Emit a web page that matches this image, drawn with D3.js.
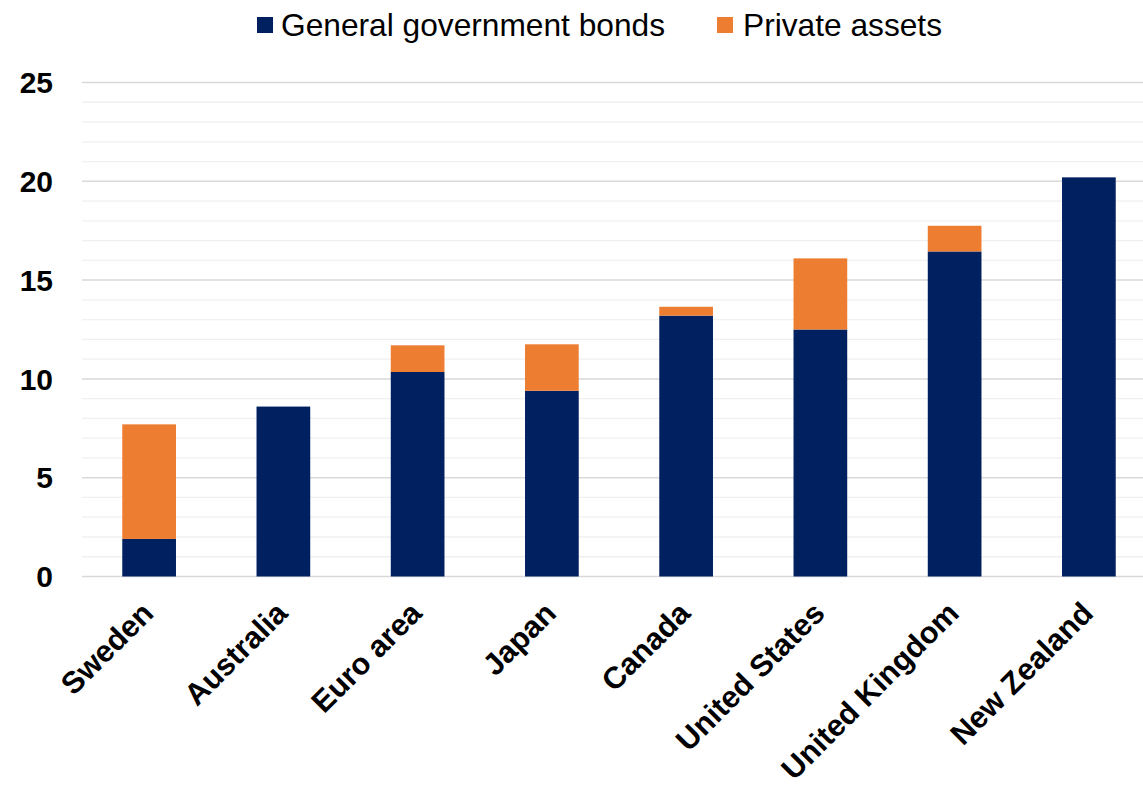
<!DOCTYPE html>
<html>
<head>
<meta charset="utf-8">
<script src="https://cdn.jsdelivr.net/npm/d3@7"></script>
<style>
  html, body { margin: 0; padding: 0; background: #fff; }
  svg { display: block; font-family: "Liberation Sans", Arial, sans-serif; }
</style>
</head>
<body>
<svg id="chart" width="1143" height="789"></svg>
<script>
const categories = ["Sweden", "Australia", "Euro area", "Japan", "Canada", "United States", "United Kingdom", "New Zealand"];
const govBonds = [1.9, 8.6, 10.35, 9.4, 13.2, 12.5, 16.45, 20.2];
const privateAssets = [5.8, 0, 1.35, 2.35, 0.45, 3.6, 1.3, 0];
const seriesNames = ["General government bonds", "Private assets"];
const seriesColors = ["#002060", "#ED7D31"];
const yTicks = [0, 5, 10, 15, 20, 25];
const yMinorTicks = d3.range(0, 26, 1);

const svg = d3.select("#chart");
const W = 1143, H = 789;

const x = d3.scaleBand().domain(categories).range([82, 1156]).paddingInner(0.6).paddingOuter(0.3);
const y = d3.scaleLinear().domain([0, 25]).range([576.5, 82.5]);

// minor gridlines
svg.append("g").selectAll("line").data(yMinorTicks.filter(d => d % 5 !== 0)).join("line")
  .attr("x1", 82).attr("x2", W)
  .attr("y1", d => y(d)).attr("y2", d => y(d))
  .attr("stroke", "#f0f0f0").attr("stroke-width", 1.3);

// major gridlines
svg.append("g").selectAll("line").data(yTicks).join("line")
  .attr("x1", 82).attr("x2", W)
  .attr("y1", d => y(d)).attr("y2", d => y(d))
  .attr("stroke", "#d9d9d9").attr("stroke-width", 1.5);

// stacked data
const rows = categories.map((c, i) => ({ cat: c, gov: govBonds[i], priv: privateAssets[i] }));
const stack = d3.stack().keys(["gov", "priv"]);
const stacked = stack(rows);

const g = svg.append("g");
stacked.forEach((layer, li) => {
  g.append("g").selectAll("rect").data(layer.filter(d => d[1] - d[0] > 0)).join("rect")
    .attr("x", d => x(d.data.cat))
    .attr("width", x.bandwidth())
    .attr("y", d => y(d[1]))
    .attr("height", d => y(d[0]) - y(d[1]))
    .attr("fill", seriesColors[li]);
});

// y axis labels
const yAxis = d3.axisLeft(y).tickValues(yTicks).tickSize(0).tickPadding(0);
const yg = svg.append("g").attr("transform", "translate(53,0)").call(yAxis);
yg.select(".domain").remove();
yg.selectAll("text")
  .attr("font-family", "Liberation Sans, Arial, sans-serif")
  .attr("font-size", 30).attr("font-weight", "bold").attr("fill", "#000")
  .attr("dy", "0.34em");

// x axis labels
const xAxis = d3.axisBottom(x).tickSize(0).tickPadding(0);
const xg = svg.append("g").call(xAxis);
xg.select(".domain").remove();
xg.selectAll(".tick").attr("transform", null);
xg.selectAll("text")
  .attr("font-family", "Liberation Sans, Arial, sans-serif")
  .attr("font-size", 30.5).attr("font-weight", "bold").attr("fill", "#000")
  .attr("text-anchor", "end")
  .attr("y", null).attr("dy", null)
  .attr("transform", d => `translate(${x(d) + x.bandwidth() / 2 + 6},615) rotate(-45)`);

// legend
const legendX = [257, 717];
const leg = svg.append("g");
seriesNames.forEach((name, i) => {
  leg.append("rect").attr("x", legendX[i]).attr("y", 17).attr("width", 16).attr("height", 16)
    .attr("fill", seriesColors[i]);
  leg.append("text").attr("x", legendX[i] + 24 + i * 2).attr("y", 36)
    .attr("font-size", 31.7).attr("fill", "#000").text(name);
});
</script>
</body>
</html>
